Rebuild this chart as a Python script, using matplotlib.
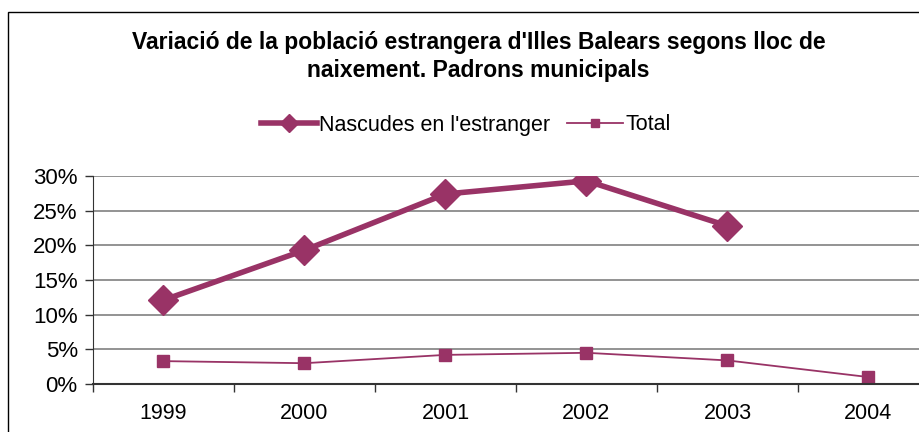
import matplotlib.pyplot as plt
from matplotlib.patches import Rectangle
from matplotlib.ticker import FuncFormatter

plt.rcParams['font.family'] = ['Liberation Sans', 'DejaVu Sans']

# dades
anys = ['1999', '2000', '2001', '2002', '2003', '2004']
nascudes = [12.1, 19.3, 27.4, 29.3, 22.8]
total = [3.3, 3.0, 4.2, 4.5, 3.4, 1.0]

color = '#993366'

fig = plt.figure(figsize=(9.2, 4.32), dpi=100)
W, H = 920, 432

# marc del grafic (tallat a la dreta i a baix)
fig.patches.append(Rectangle((8 / W, -0.1), 1.2, (H - 12) / H + 0.1, transform=fig.transFigure,
                             fill=False, edgecolor='black', lw=1.0))

# eix: de x=93 a x=939 px, de y=176 a y=384 px
ax = fig.add_axes([93 / W, (H - 384) / H, 846 / W, 208 / H])
x = list(range(len(anys)))
ax.plot(x[:len(nascudes)], nascudes, color=color, lw=4, marker='D', markersize=15,
        label='Nascudes en l\'estranger')
ax.plot(x, total, color=color, lw=1.3, marker='s', markersize=9, label='Total')

ax.set_xlim(-0.5, 5.5)
ax.set_ylim(0, 30)
ax.set_yticks(range(0, 31, 5))
ax.yaxis.set_major_formatter(FuncFormatter(lambda v, p: f'{v:.0f}%'))
ax.set_xticks(x)
ax.set_xticklabels(anys)
ax.set_xticks([i + 0.5 for i in range(-1, 6)], minor=True)
ax.tick_params(axis='x', which='major', length=0, pad=14, labelsize=15.5)
ax.tick_params(axis='x', which='minor', length=6, width=1, direction='out', color='#333333')
ax.tick_params(axis='y', length=6, width=1, color='#333333', labelsize=16, pad=5)
ax.yaxis.grid(True, color='#808080', lw=1.2)
ax.set_axisbelow(True)
for s in ['top', 'right']:
    ax.spines[s].set_visible(False)
ax.spines['left'].set_color('#333333')
ax.spines['bottom'].set_color('#333333')
ax.spines['bottom'].set_linewidth(1.5)

fig.text(0.52, (H - 42) / H, 'Variació de la població estrangera d\'Illes Balears segons lloc de',
         ha='center', va='center', fontsize=16.5, fontweight='bold')
fig.text(0.52, (H - 70) / H, 'naixement. Padrons municipals',
         ha='center', va='center', fontsize=16.5, fontweight='bold')

fig.legend(loc='center', bbox_to_anchor=(466 / W, (H - 125) / H), ncol=2, frameon=False,
           fontsize=15.5, handlelength=2.6, handletextpad=0.1, columnspacing=0.8, markerscale=0.6)

fig.savefig('out.png', dpi=100)
